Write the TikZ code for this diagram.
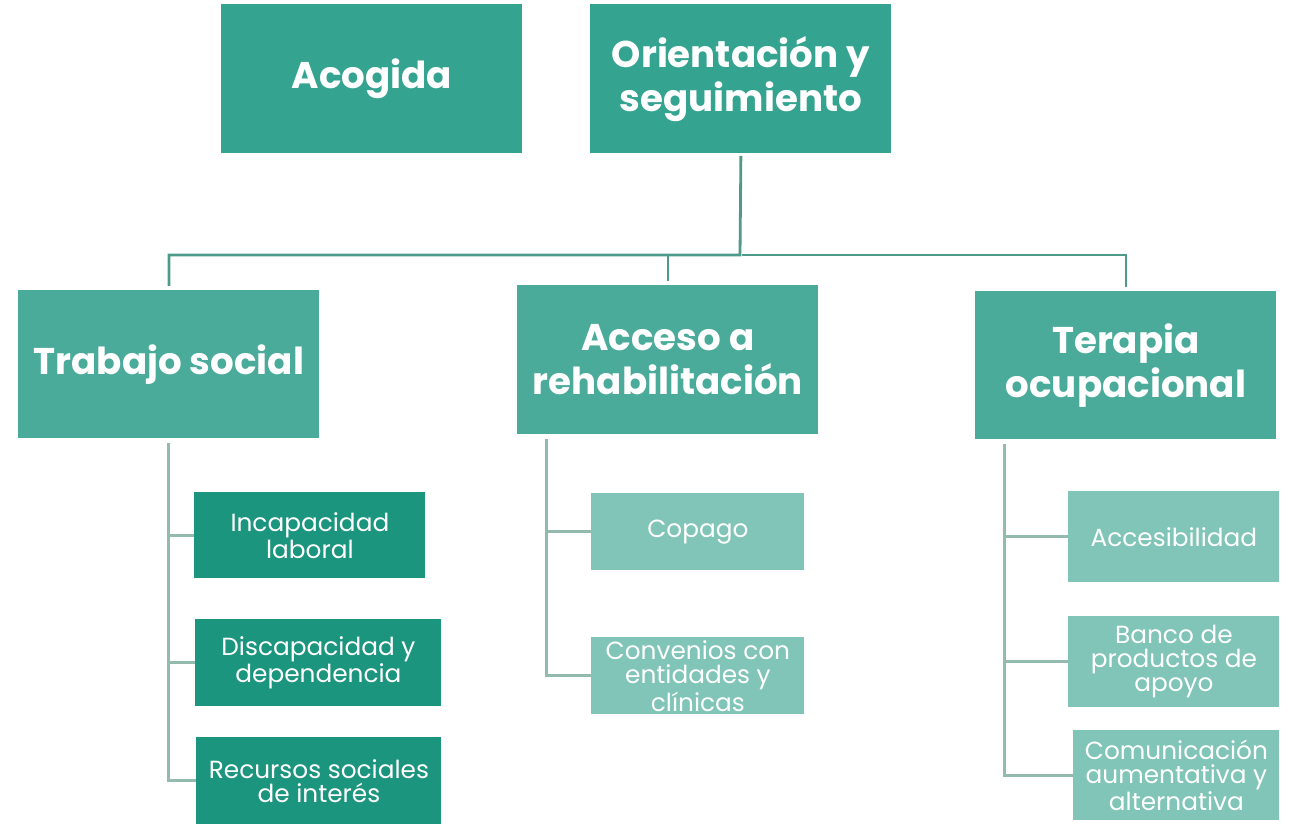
\documentclass[tikz,border=0pt]{standalone}
\usepackage{fontspec}
\setmainfont{Poppins}
\usetikzlibrary{positioning}
\definecolor{verdeA}{HTML}{34A390}
\definecolor{verdeB}{HTML}{4BAB9A}
\definecolor{verdeC}{HTML}{1C957F}
\definecolor{verdeD}{HTML}{80C5B7}
\definecolor{lineaA}{HTML}{4E9A88}
\definecolor{lineaB}{HTML}{93BAAC}
\tikzset{
    %Define style for header boxes
    cabecera/.style={
           rectangle,
           fill=verdeA,
           text=white,
           font=\bfseries\fontsize{18.6}{22}\selectfont,
           align=center,
           minimum width=150.5pt,
           minimum height=74.5pt,
           inner sep=0pt,
           anchor=north west},
    area/.style={
           cabecera,
           fill=verdeB},
    %Define style for small boxes
    tema/.style={
           rectangle,
           fill=verdeC,
           text=white,
           font=\fontsize{12.4}{12}\selectfont,
           align=center,
           inner sep=0pt,
           anchor=north west},
    claro/.style={
           tema,
           fill=verdeD},
    % Define line styles
    rama/.style={
           draw=lineaA,
           line width=1.4pt,
           shorten <=1pt,
           shorten >=2pt},
    sub/.style={
           draw=lineaB,
           line width=1.5pt}
}
\begin{document}
\begin{tikzpicture}[x=0.5pt,y=-0.5pt]
  \useasboundingbox (0,0) rectangle (1293,828);
  \node[cabecera] (acogida) at (221,4) {Acogida};
  \node[cabecera] (orient) at (590,4) {Orientación y\\seguimiento};
  \node[area,minimum height=74pt] (trabajo) at (18,290) {Trabajo social};
  \node[area] (acceso) at (517,285) {Acceso a\\rehabilitación};
  \node[area,minimum height=74pt] (terapia) at (975,291) {Terapia\\ocupacional};
  % Trabajo social
  \node[tema,minimum width=115.5pt,minimum height=43pt] (incap) at (194,492) {Incapacidad\\laboral};
  \node[tema,minimum width=123pt,minimum height=43.5pt] (discap) at (195,619) {Discapacidad y\\dependencia};
  \node[tema,minimum width=122.5pt,minimum height=43.5pt] (recursos) at (196,737) {Recursos sociales\\de interés};
  % Acceso a rehabilitacion
  \node[claro,minimum width=106.5pt,minimum height=38.5pt] (copago) at (591,493) {Copago};
  \node[claro,minimum width=106.5pt,minimum height=38.5pt] (convenios) at (591,637) {Convenios con\\entidades y\\clínicas};
  % Terapia ocupacional
  \node[claro,minimum width=105.5pt,minimum height=45.5pt] (accesib) at (1068,491) {Accesibilidad};
  \node[claro,minimum width=105.5pt,minimum height=45.5pt] (banco) at (1068,616) {Banco de\\productos de\\apoyo};
  \node[claro,minimum width=103pt,minimum height=45pt] (comunic) at (1073,730) {Comunicación\\aumentativa y\\alternativa};
  % connectors
  \coordinate (bus) at (740,255);
  \draw[rama] (orient.south) -- (bus) -| (trabajo.north);
  \draw[rama] (bus) -| (acceso.north);
  \draw[rama] (bus) -| (terapia.north);
  \draw[sub] ([yshift=-2pt]trabajo.south) -- (trabajo.south |- recursos.west) -- (recursos.west);
  \foreach \n in {incap,discap}
    \draw[sub] (trabajo.south |- \n.west) -- (\n.west);
  \coordinate (ejeB) at ([xshift=14.5pt,yshift=-2pt]acceso.south west);
  \draw[sub] (ejeB) -- (ejeB |- convenios.west) -- (convenios.west);
  \draw[sub] (ejeB |- copago.west) -- (copago.west);
  \coordinate (ejeC) at ([xshift=14.5pt,yshift=-2pt]terapia.south west);
  \draw[sub] (ejeC) -- (ejeC |- comunic.west) -- (comunic.west);
  \foreach \n in {accesib,banco}
    \draw[sub] (ejeC |- \n.west) -- (\n.west);
\end{tikzpicture}
\end{document}
